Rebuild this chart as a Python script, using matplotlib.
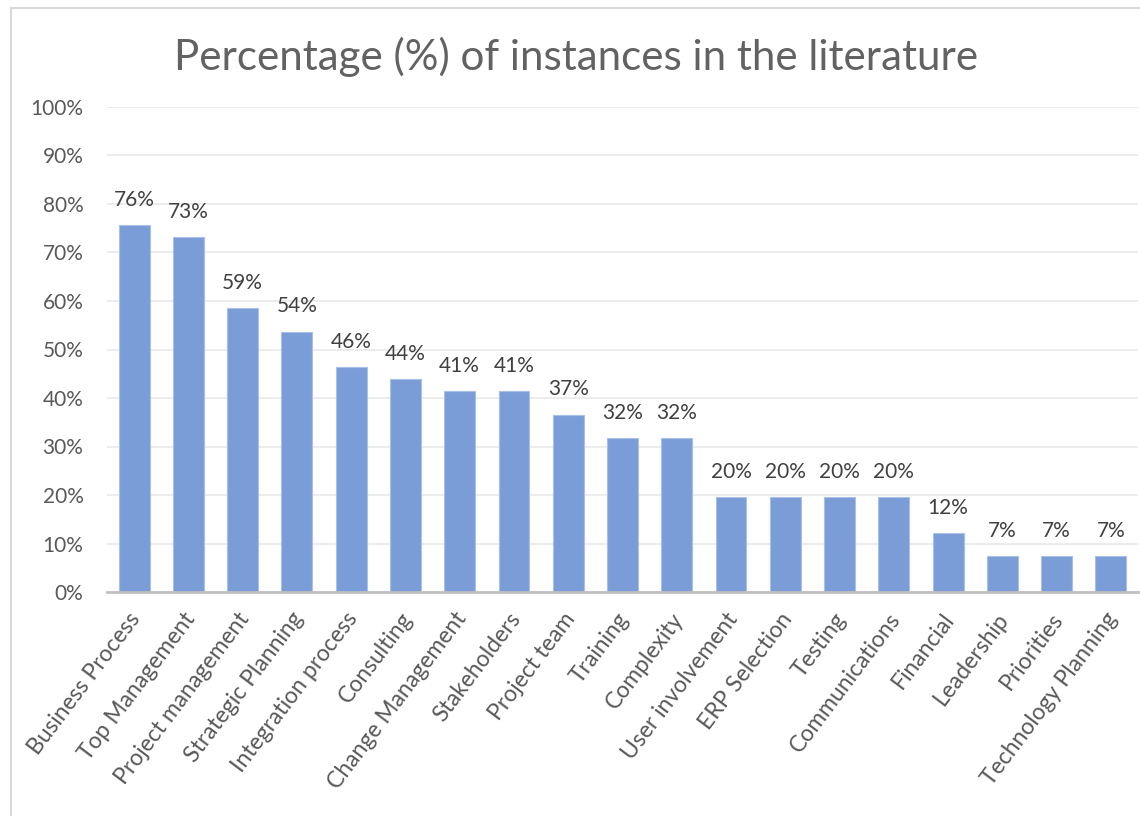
import matplotlib.pyplot as plt
from matplotlib.lines import Line2D
from matplotlib.transforms import ScaledTranslation
import numpy as np

# share of reviewed papers mentioning each factor (%)
factors = ["Business Process", "Top Management", "Project management",
           "Strategic Planning", "Integration process", "Consulting",
           "Change Management", "Stakeholders", "Project team", "Training",
           "Complexity", "User involvement", "ERP Selection", "Testing",
           "Communications", "Financial", "Leadership", "Priorities",
           "Technology Planning"]
share = [75.61, 73.17, 58.54, 53.66, 46.34, 43.90, 41.46, 41.46, 36.59, 31.71,
         31.71, 19.51, 19.51, 19.51, 19.51, 12.20, 7.32, 7.32, 7.32]
yticks = [0, 10, 20, 30, 40, 50, 60, 70, 80, 90, 100]

plt.rcParams['font.family'] = ['Lato', 'DejaVu Sans']

fig = plt.figure(figsize=(11.4, 8.16), dpi=100)
ax = fig.add_axes([107/1140, 1 - 592/816, 1031/1140, 485/816])

x = np.arange(len(factors))
bars = ax.bar(x, share, width=0.57, color='#7b9dd7',
              edgecolor='#a9c0e8', linewidth=0.8, zorder=3)

for xi, v in zip(x, share):
    ax.annotate(f"{v:.0f}%", (xi, v), xytext=(0, 11), textcoords='offset points',
                ha='center', va='bottom', fontsize=15, color='#404040')

ax.set_xlim(-0.5, len(factors) - 0.5)
ax.set_ylim(0, 100)
ax.set_yticks(yticks)
ax.set_yticklabels([f"{t}%" for t in yticks], fontsize=15, color='#595959')
ax.set_xticks(x)
ax.set_xticklabels(factors, rotation=53, ha='right', va='top',
                   rotation_mode='anchor', fontsize=16.5, color='#595959')
ax.tick_params(axis='both', length=0)
ax.tick_params(axis='y', pad=17)
ax.tick_params(axis='x', pad=12)

# nudge the slanted category labels a little to the left
shift = ScaledTranslation(-6/100, 0, fig.dpi_scale_trans)
for lbl in ax.get_xticklabels():
    lbl.set_transform(lbl.get_transform() + shift)

ax.grid(axis='y', color='#ebebeb', linewidth=1.3, zorder=0)
for side in ['top', 'right', 'left']:
    ax.spines[side].set_visible(False)
ax.spines['bottom'].set_color('#c0c0c0')
ax.spines['bottom'].set_linewidth(2)
ax.spines['bottom'].set_zorder(4)

fig.text(576/1140, 1 - 57/816, "Percentage (%) of instances in the literature",
         ha='center', va='center', fontsize=30.3, fontweight='normal',
         color='#626262')

# chart frame (left and top edges)
fig.add_artist(Line2D([11/1140, 11/1140], [0, 1 - 8/816],
                      color='#d9d9d9', linewidth=1.5))
fig.add_artist(Line2D([11/1140, 1], [1 - 8/816, 1 - 8/816],
                      color='#d9d9d9', linewidth=1.5))

fig.savefig('out.png', dpi=100, facecolor='white')
